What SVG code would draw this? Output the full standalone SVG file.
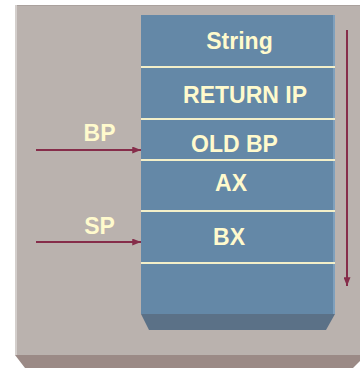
<svg xmlns="http://www.w3.org/2000/svg" width="360" height="368" viewBox="0 0 360 368">
<style>
.t{font-family:"Liberation Sans",Arial,sans-serif;font-weight:bold;font-size:23px;fill:#fffacd;text-anchor:middle}
.div{stroke:#f3efc9;stroke-width:2}
.arr{stroke:#862d4a;stroke-width:2;fill:none}
</style>
<defs>
<marker id="ah" viewBox="0 0 10 8" refX="10" refY="4" markerWidth="5" markerHeight="3.5" orient="auto" markerUnits="strokeWidth">
<path d="M0,0 L10,4 L0,8 Z" fill="#862d4a"/>
</marker>
</defs>
<rect x="0" y="0" width="360" height="368" fill="#ffffff"/>
<g id="panel">
<rect x="15" y="5" width="355" height="350" fill="#bab2ae"/>
<line x1="15" y1="5.5" x2="360" y2="5.5" stroke="#aaa19d" stroke-width="1"/>
<rect x="15" y="5" width="2" height="350" fill="#d4cfcc"/>
<polygon points="15,355 366,355 353,368 25,368" fill="#9b8a86"/>
</g>
<g id="stack">
<rect x="141" y="15" width="194" height="299" fill="#6488a7"/>
<rect x="333" y="15" width="2" height="299" fill="#7fa0bd"/>
<polygon points="141,314 335,314 326,330 149,330" fill="#5b7187"/>
<line class="div" x1="141" y1="67" x2="335" y2="67"/>
<line class="div" x1="141" y1="119" x2="335" y2="119"/>
<line class="div" x1="141" y1="160" x2="335" y2="160"/>
<line class="div" x1="141" y1="211" x2="335" y2="211"/>
<line class="div" x1="141" y1="263" x2="335" y2="263"/>
</g>
<g id="cell-string"><text class="t" x="239.5" y="48.5">String</text></g>
<g id="cell-returnip"><text class="t" x="245" y="102.5">RETURN IP</text></g>
<g id="cell-oldbp"><text class="t" x="234.5" y="152">OLD BP</text></g>
<g id="cell-ax"><text class="t" x="231" y="191">AX</text></g>
<g id="cell-bx"><text class="t" x="229" y="244.5">BX</text></g>
<g id="label-bp"><text class="t" x="99.5" y="141">BP</text></g>
<g id="label-sp"><text class="t" x="99.5" y="234">SP</text></g>
<g id="connectors">
<line class="arr" x1="36" y1="150" x2="141" y2="150" marker-end="url(#ah)"/>
<line class="arr" x1="36" y1="242" x2="141" y2="242" marker-end="url(#ah)"/>
<line class="arr" x1="347" y1="30" x2="347" y2="286" marker-end="url(#ah)"/>
</g>
</svg>
